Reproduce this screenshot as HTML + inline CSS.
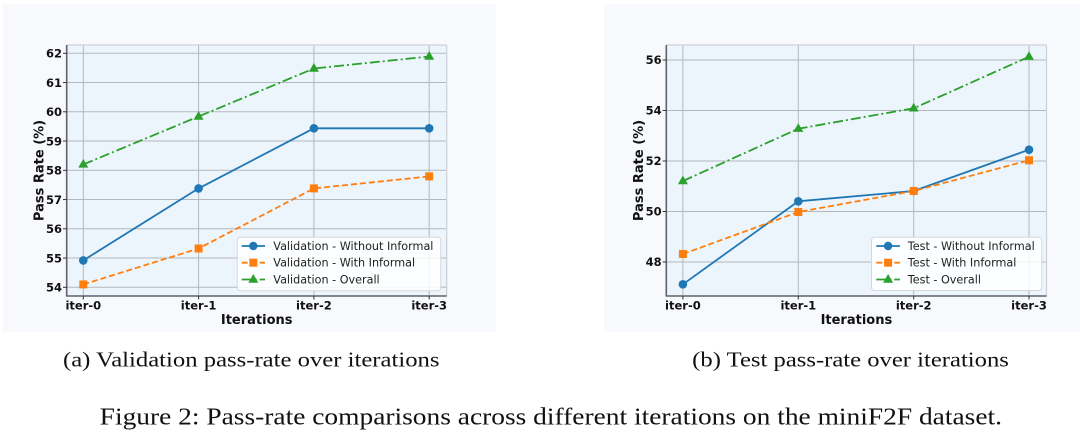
<!DOCTYPE html>
<html>
<head>
<meta charset="utf-8">
<style>
  html, body { margin:0; padding:0; background:#ffffff; }
  body { width:1080px; height:434px; overflow:hidden; }
  svg { display:block; }
  .tk { font-family:"DejaVu Sans","Liberation Sans",sans-serif; font-weight:bold; font-size:11.5px; fill:#111; }
  .lab { font-family:"DejaVu Sans","Liberation Sans",sans-serif; font-weight:bold; font-size:13px; fill:#111; }
  .leg { font-family:"DejaVu Sans","Liberation Sans",sans-serif; font-size:11.2px; fill:#222; }
  .cap { font-family:"Liberation Serif",serif; fill:#111; }
</style>
</head>
<body>
<svg width="1080" height="434" viewBox="0 0 1080 434" xmlns="http://www.w3.org/2000/svg">
  <!-- panels -->
  <rect x="3" y="4" width="493" height="328" fill="#f7f9fd"/>
  <rect x="604" y="4" width="476" height="328" fill="#f7f9fd"/>

  <!-- ================= LEFT CHART ================= -->
  <rect x="66.7" y="45" width="380" height="251" fill="#ecf5fc"/>
  <g stroke="#b4b8bd" stroke-width="1">
    <line x1="66.7" x2="446.7" y1="53.3" y2="53.3"/>
    <line x1="66.7" x2="446.7" y1="82.55" y2="82.55"/>
    <line x1="66.7" x2="446.7" y1="111.8" y2="111.8"/>
    <line x1="66.7" x2="446.7" y1="141.05" y2="141.05"/>
    <line x1="66.7" x2="446.7" y1="170.3" y2="170.3"/>
    <line x1="66.7" x2="446.7" y1="199.55" y2="199.55"/>
    <line x1="66.7" x2="446.7" y1="228.8" y2="228.8"/>
    <line x1="66.7" x2="446.7" y1="258.05" y2="258.05"/>
    <line x1="66.7" x2="446.7" y1="287.3" y2="287.3"/>
    <line x1="83.3" x2="83.3" y1="45" y2="296"/>
    <line x1="198.6" x2="198.6" y1="45" y2="296"/>
    <line x1="313.9" x2="313.9" y1="45" y2="296"/>
    <line x1="429.2" x2="429.2" y1="45" y2="296"/>
  </g>
  <line x1="66.7" x2="446.7" y1="45" y2="45" stroke="#cdd1d6" stroke-width="1.2"/>
  <line x1="446.7" x2="446.7" y1="45" y2="296" stroke="#cdd1d6" stroke-width="1.2"/>
  <line x1="66.7" x2="66.7" y1="45" y2="296.5" stroke="#5f6267" stroke-width="1.6"/>
  <line x1="66.2" x2="446.7" y1="296" y2="296" stroke="#5f6267" stroke-width="1.6"/>
  <g stroke="#333" stroke-width="1">
    <line x1="63" x2="66.7" y1="53.3" y2="53.3"/>
    <line x1="63" x2="66.7" y1="82.55" y2="82.55"/>
    <line x1="63" x2="66.7" y1="111.8" y2="111.8"/>
    <line x1="63" x2="66.7" y1="141.05" y2="141.05"/>
    <line x1="63" x2="66.7" y1="170.3" y2="170.3"/>
    <line x1="63" x2="66.7" y1="199.55" y2="199.55"/>
    <line x1="63" x2="66.7" y1="228.8" y2="228.8"/>
    <line x1="63" x2="66.7" y1="258.05" y2="258.05"/>
    <line x1="63" x2="66.7" y1="287.3" y2="287.3"/>
    <line x1="83.3" x2="83.3" y1="296" y2="299.5"/>
    <line x1="198.6" x2="198.6" y1="296" y2="299.5"/>
    <line x1="313.9" x2="313.9" y1="296" y2="299.5"/>
    <line x1="429.2" x2="429.2" y1="296" y2="299.5"/>
  </g>
  <g class="tk" text-anchor="end">
    <text x="62" y="57.5">62</text>
    <text x="62" y="86.75">61</text>
    <text x="62" y="116">60</text>
    <text x="62" y="145.25">59</text>
    <text x="62" y="174.5">58</text>
    <text x="62" y="203.75">57</text>
    <text x="62" y="233">56</text>
    <text x="62" y="262.25">55</text>
    <text x="62" y="291.5">54</text>
  </g>
  <g class="tk" text-anchor="middle">
    <text x="83.3" y="309.5">iter-0</text>
    <text x="198.6" y="309.5">iter-1</text>
    <text x="313.9" y="309.5">iter-2</text>
    <text x="429.2" y="309.5">iter-3</text>
  </g>
  <text class="lab" x="256.7" y="324" text-anchor="middle">Iterations</text>
  <text class="lab" text-anchor="middle" transform="translate(43.5,170.5) rotate(-90)">Pass Rate (%)</text>

  <polyline points="83.3,164.45 198.6,116.5 313.9,68.5 429.2,56.5" fill="none" stroke="#2ca02c" stroke-width="1.8" stroke-dasharray="10,3,2,3"/>
  <polyline points="83.3,260.4 198.6,188.4 313.9,128.3 429.2,128.3" fill="none" stroke="#1f77b4" stroke-width="1.8"/>
  <polyline points="83.3,284.4 198.6,248.5 313.9,188.4 429.2,176.4" fill="none" stroke="#ff7f0e" stroke-width="1.8" stroke-dasharray="6,3"/>
  <g fill="#2ca02c">
    <polygon points="83.3,158.9 78.3,167.6 88.3,167.6"/>
    <polygon points="198.6,111 193.6,119.7 203.6,119.7"/>
    <polygon points="313.9,63 308.9,71.7 318.9,71.7"/>
    <polygon points="429.2,51 424.2,59.7 434.2,59.7"/>
  </g>
  <g fill="#1f77b4">
    <circle cx="83.3" cy="260.4" r="4.3"/>
    <circle cx="198.6" cy="188.4" r="4.3"/>
    <circle cx="313.9" cy="128.3" r="4.3"/>
    <circle cx="429.2" cy="128.3" r="4.3"/>
  </g>
  <g fill="#ff7f0e">
    <rect x="79.3" y="280.4" width="8" height="8"/>
    <rect x="194.6" y="244.5" width="8" height="8"/>
    <rect x="309.9" y="184.4" width="8" height="8"/>
    <rect x="425.2" y="172.4" width="8" height="8"/>
  </g>

  <rect x="237.3" y="237.3" width="203.4" height="53.4" rx="3" fill="#ffffff" fill-opacity="0.85" stroke="#d6d8dc" stroke-width="1"/>
  <line x1="241.7" x2="265" y1="246" y2="246" stroke="#1f77b4" stroke-width="1.8"/>
  <circle cx="253.3" cy="246" r="4.2" fill="#1f77b4"/>
  <line x1="241.7" x2="265" y1="262.7" y2="262.7" stroke="#ff7f0e" stroke-width="1.8" stroke-dasharray="6,3"/>
  <rect x="249.3" y="258.7" width="8" height="8" fill="#ff7f0e"/>
  <line x1="241.7" x2="265" y1="279.5" y2="279.5" stroke="#2ca02c" stroke-width="1.8" stroke-dasharray="10,3,2,3"/>
  <polygon points="253.3,274 248.3,282.7 258.3,282.7" fill="#2ca02c"/>
  <text class="leg" x="273.3" y="250">Validation - Without Informal</text>
  <text class="leg" x="273.3" y="266.7">Validation - With Informal</text>
  <text class="leg" x="273.3" y="283.5">Validation - Overall</text>

  <!-- ================= RIGHT CHART ================= -->
  <rect x="666.3" y="45" width="380.2" height="251" fill="#ecf5fc"/>
  <g stroke="#b4b8bd" stroke-width="1">
    <line x1="666.3" x2="1046.5" y1="60" y2="60"/>
    <line x1="666.3" x2="1046.5" y1="110.5" y2="110.5"/>
    <line x1="666.3" x2="1046.5" y1="161" y2="161"/>
    <line x1="666.3" x2="1046.5" y1="211.5" y2="211.5"/>
    <line x1="666.3" x2="1046.5" y1="262" y2="262"/>
    <line x1="682.9" x2="682.9" y1="45" y2="296"/>
    <line x1="798.3" x2="798.3" y1="45" y2="296"/>
    <line x1="913.7" x2="913.7" y1="45" y2="296"/>
    <line x1="1029" x2="1029" y1="45" y2="296"/>
  </g>
  <line x1="666.3" x2="1046.5" y1="45" y2="45" stroke="#cdd1d6" stroke-width="1.2"/>
  <line x1="1046.5" x2="1046.5" y1="45" y2="296" stroke="#cdd1d6" stroke-width="1.2"/>
  <line x1="666.3" x2="666.3" y1="45" y2="296.5" stroke="#5f6267" stroke-width="1.6"/>
  <line x1="665.8" x2="1046.5" y1="296" y2="296" stroke="#5f6267" stroke-width="1.6"/>
  <g stroke="#333" stroke-width="1">
    <line x1="662.6" x2="666.3" y1="60" y2="60"/>
    <line x1="662.6" x2="666.3" y1="110.5" y2="110.5"/>
    <line x1="662.6" x2="666.3" y1="161" y2="161"/>
    <line x1="662.6" x2="666.3" y1="211.5" y2="211.5"/>
    <line x1="662.6" x2="666.3" y1="262" y2="262"/>
    <line x1="682.9" x2="682.9" y1="296" y2="299.5"/>
    <line x1="798.3" x2="798.3" y1="296" y2="299.5"/>
    <line x1="913.7" x2="913.7" y1="296" y2="299.5"/>
    <line x1="1029" x2="1029" y1="296" y2="299.5"/>
  </g>
  <g class="tk" text-anchor="end">
    <text x="661.6" y="64.2">56</text>
    <text x="661.6" y="114.7">54</text>
    <text x="661.6" y="165.2">52</text>
    <text x="661.6" y="215.7">50</text>
    <text x="661.6" y="266.2">48</text>
  </g>
  <g class="tk" text-anchor="middle">
    <text x="682.9" y="309.5">iter-0</text>
    <text x="798.3" y="309.5">iter-1</text>
    <text x="913.7" y="309.5">iter-2</text>
    <text x="1029" y="309.5">iter-3</text>
  </g>
  <text class="lab" x="856.4" y="324" text-anchor="middle">Iterations</text>
  <text class="lab" text-anchor="middle" transform="translate(643.1,170.5) rotate(-90)">Pass Rate (%)</text>

  <polyline points="682.9,181 798.3,128.7 913.7,108.3 1029,56.7" fill="none" stroke="#2ca02c" stroke-width="1.8" stroke-dasharray="10,3,2,3"/>
  <polyline points="682.9,284.3 798.3,201.3 913.7,191 1029,149.7" fill="none" stroke="#1f77b4" stroke-width="1.8"/>
  <polyline points="682.9,254 798.3,212 913.7,191 1029,160.3" fill="none" stroke="#ff7f0e" stroke-width="1.8" stroke-dasharray="6,3"/>
  <g fill="#2ca02c">
    <polygon points="682.9,175.5 677.9,184.2 687.9,184.2"/>
    <polygon points="798.3,123.2 793.3,131.9 803.3,131.9"/>
    <polygon points="913.7,102.8 908.7,111.5 918.7,111.5"/>
    <polygon points="1029,51.2 1024,59.9 1034,59.9"/>
  </g>
  <g fill="#1f77b4">
    <circle cx="682.9" cy="284.3" r="4.3"/>
    <circle cx="798.3" cy="201.3" r="4.3"/>
    <circle cx="913.7" cy="191" r="4.3"/>
    <circle cx="1029" cy="149.7" r="4.3"/>
  </g>
  <g fill="#ff7f0e">
    <rect x="678.9" y="250" width="8" height="8"/>
    <rect x="794.3" y="208" width="8" height="8"/>
    <rect x="909.7" y="187" width="8" height="8"/>
    <rect x="1025" y="156.3" width="8" height="8"/>
  </g>

  <rect x="871.5" y="237.3" width="170.2" height="53.2" rx="3" fill="#ffffff" fill-opacity="0.85" stroke="#d6d8dc" stroke-width="1"/>
  <line x1="876.3" x2="899.9" y1="246" y2="246" stroke="#1f77b4" stroke-width="1.8"/>
  <circle cx="888.1" cy="246" r="4.2" fill="#1f77b4"/>
  <line x1="876.3" x2="899.9" y1="262.7" y2="262.7" stroke="#ff7f0e" stroke-width="1.8" stroke-dasharray="6,3"/>
  <rect x="884.1" y="258.7" width="8" height="8" fill="#ff7f0e"/>
  <line x1="876.3" x2="899.9" y1="279.5" y2="279.5" stroke="#2ca02c" stroke-width="1.8" stroke-dasharray="10,3,2,3"/>
  <polygon points="888.1,274 883.1,282.7 893.1,282.7" fill="#2ca02c"/>
  <text class="leg" x="907.8" y="250">Test - Without Informal</text>
  <text class="leg" x="907.8" y="266.7">Test - With Informal</text>
  <text class="leg" x="907.8" y="283.5">Test - Overall</text>

  <!-- captions -->
  <text class="cap" font-family="Liberation Serif, serif" x="63" y="366.7" font-size="21" textLength="376.5" lengthAdjust="spacingAndGlyphs">(a) Validation pass-rate over iterations</text>
  <text class="cap" font-family="Liberation Serif, serif" x="692.2" y="366.7" font-size="21" textLength="316.7" lengthAdjust="spacingAndGlyphs">(b) Test pass-rate over iterations</text>
  <text class="cap" font-family="Liberation Serif, serif" x="99.7" y="424.3" font-size="24" textLength="902.3" lengthAdjust="spacingAndGlyphs">Figure 2: Pass-rate comparisons across different iterations on the miniF2F dataset.</text>
</svg>
</body>
</html>
